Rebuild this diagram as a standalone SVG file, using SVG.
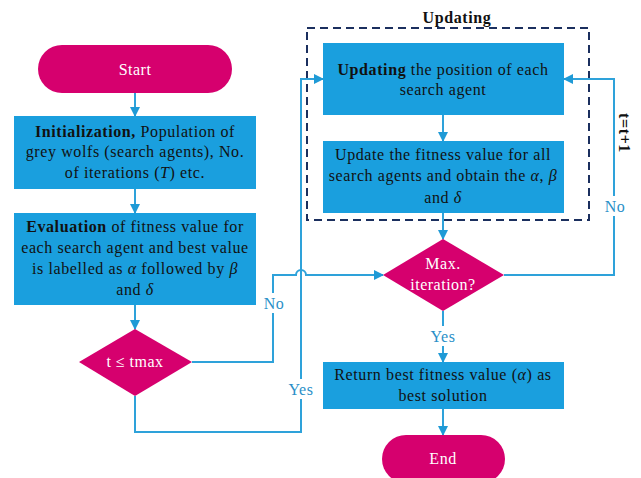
<svg xmlns="http://www.w3.org/2000/svg" width="641" height="478" viewBox="0 0 641 478">
  <style>
    .term { fill: #d6006e; }
    .proc { fill: #1a9fde; }
    .txt { font-family: "Liberation Serif", "Times New Roman", serif; font-size: 16px; letter-spacing: 0.6px; fill: #111; text-anchor: middle; }
    .wtxt { font-family: "Liberation Serif", "Times New Roman", serif; font-size: 16px; letter-spacing: 0.5px; fill: #fff; text-anchor: middle; }
    .lbl { font-family: "Liberation Serif", "Times New Roman", serif; font-size: 16px; letter-spacing: 0.5px; fill: #2a8fc8; text-anchor: middle; }
    .wire { fill: none; stroke: #2ea2da; stroke-width: 2; }
    .frame { fill: none; stroke: #1b2f5e; stroke-width: 2; stroke-dasharray: 8 5; }
  </style>
  <defs>
    <marker id="arrow" markerWidth="10" markerHeight="10" refX="9" refY="5" orient="auto" markerUnits="userSpaceOnUse">
      <path d="M0,0 L10,5 L0,10 Z" fill="#1f9ad6"/>
    </marker>
  </defs>
  <rect width="641" height="478" fill="#fff"/>

  <!-- updating frame -->
  <g id="updating-frame">
    <rect class="frame" x="307" y="28" width="282" height="192"/>
    <text x="457" y="23" class="txt" font-weight="bold">Updating</text>
  </g>

  <!-- connectors -->
  <g id="connectors">
    <path class="wire" d="M135,93 V116" marker-end="url(#arrow)"/>
    <path class="wire" d="M135,189 V213" marker-end="url(#arrow)"/>
    <path class="wire" d="M135,305 V329" marker-end="url(#arrow)"/>
    <!-- No branch from t <= tmax to Max. iteration -->
    <path class="wire" d="M192,362 H273 V275 H296 A5,5 0 0 1 306,275 H383" marker-end="url(#arrow)"/>
    <!-- Yes branch from t <= tmax to Updating -->
    <path class="wire" d="M135,396 V432 H301 V79 H323" marker-end="url(#arrow)"/>
    <path class="wire" d="M443,115 V141" marker-end="url(#arrow)"/>
    <path class="wire" d="M443,213 V239" marker-end="url(#arrow)"/>
    <!-- t = t+1 loop -->
    <path class="wire" d="M504,275 H614 V79 H564" marker-end="url(#arrow)"/>
    <path class="wire" d="M443,311 V362" marker-end="url(#arrow)"/>
    <path class="wire" d="M443,409 V435" marker-end="url(#arrow)"/>
    <rect x="428" y="326" width="30" height="20" fill="#fff"/>
    <text x="443" y="342" class="lbl">Yes</text>
    <rect x="262" y="293" width="24" height="20" fill="#fff"/>
    <text x="274" y="309" class="lbl">No</text>
    <rect x="286" y="379" width="30" height="20" fill="#fff"/>
    <text x="301" y="395" class="lbl">Yes</text>
    <rect x="603" y="196" width="24" height="20" fill="#fff"/>
    <text x="615" y="212" class="lbl">No</text>
    <text transform="translate(619,133) rotate(90)" class="txt" font-weight="bold" font-size="15" letter-spacing="0.3">t=t+1</text>
  </g>

  <g id="start">
    <rect class="term" x="38" y="45" width="194" height="48" rx="24"/>
    <text x="135" y="75" class="wtxt">Start</text>
  </g>

  <g id="init">
    <rect class="proc" x="14" y="116" width="242" height="73"/>
    <text class="txt"><tspan x="135" y="137"><tspan font-weight="bold">Initialization,</tspan> Population of</tspan><tspan x="135" y="157">grey wolfs (search agents), No.</tspan><tspan x="135" y="178">of iterations (<tspan font-style="italic">T</tspan>) etc.</tspan></text>
  </g>

  <g id="evaluation">
    <rect class="proc" x="14" y="213" width="242" height="92"/>
    <text class="txt"><tspan x="135" y="232"><tspan font-weight="bold">Evaluation</tspan> of fitness value for</tspan><tspan x="135" y="253">each search agent and best value</tspan><tspan x="135" y="274">is labelled as <tspan font-style="italic">α</tspan> followed by <tspan font-style="italic">β</tspan></tspan><tspan x="135" y="295">and <tspan font-style="italic">δ</tspan></tspan></text>
  </g>

  <g id="check-t">
    <polygon class="term" points="79,362 135,329 192,362 135,396"/>
    <text x="135" y="367" class="wtxt">t ≤ tmax</text>
  </g>

  <g id="update-position">
    <rect class="proc" x="323" y="43" width="241" height="72"/>
    <text class="txt"><tspan x="443" y="75"><tspan font-weight="bold">Updating</tspan> the position of each</tspan><tspan x="443" y="95">search agent</tspan></text>
  </g>

  <g id="update-fitness">
    <rect class="proc" x="323" y="141" width="241" height="72"/>
    <text class="txt"><tspan x="443" y="160">Update the fitness value for all</tspan><tspan x="443" y="181">search agents and obtain the <tspan font-style="italic">α</tspan>, <tspan font-style="italic">β</tspan></tspan><tspan x="443" y="203">and <tspan font-style="italic">δ</tspan></tspan></text>
  </g>

  <g id="max-iteration">
    <polygon class="term" points="383,275 443,239 504,275 443,311"/>
    <text class="wtxt"><tspan x="443" y="269">Max.</tspan><tspan x="443" y="290">iteration?</tspan></text>
  </g>

  <g id="return-best">
    <rect class="proc" x="323" y="362" width="241" height="47"/>
    <text class="txt"><tspan x="443" y="380">Return best fitness value (<tspan font-style="italic">α</tspan>) as</tspan><tspan x="443" y="401">best solution</tspan></text>
  </g>

  <g id="end">
    <rect class="term" x="382" y="435" width="123" height="48" rx="24"/>
    <text x="443" y="464" class="wtxt">End</text>
  </g>
</svg>
